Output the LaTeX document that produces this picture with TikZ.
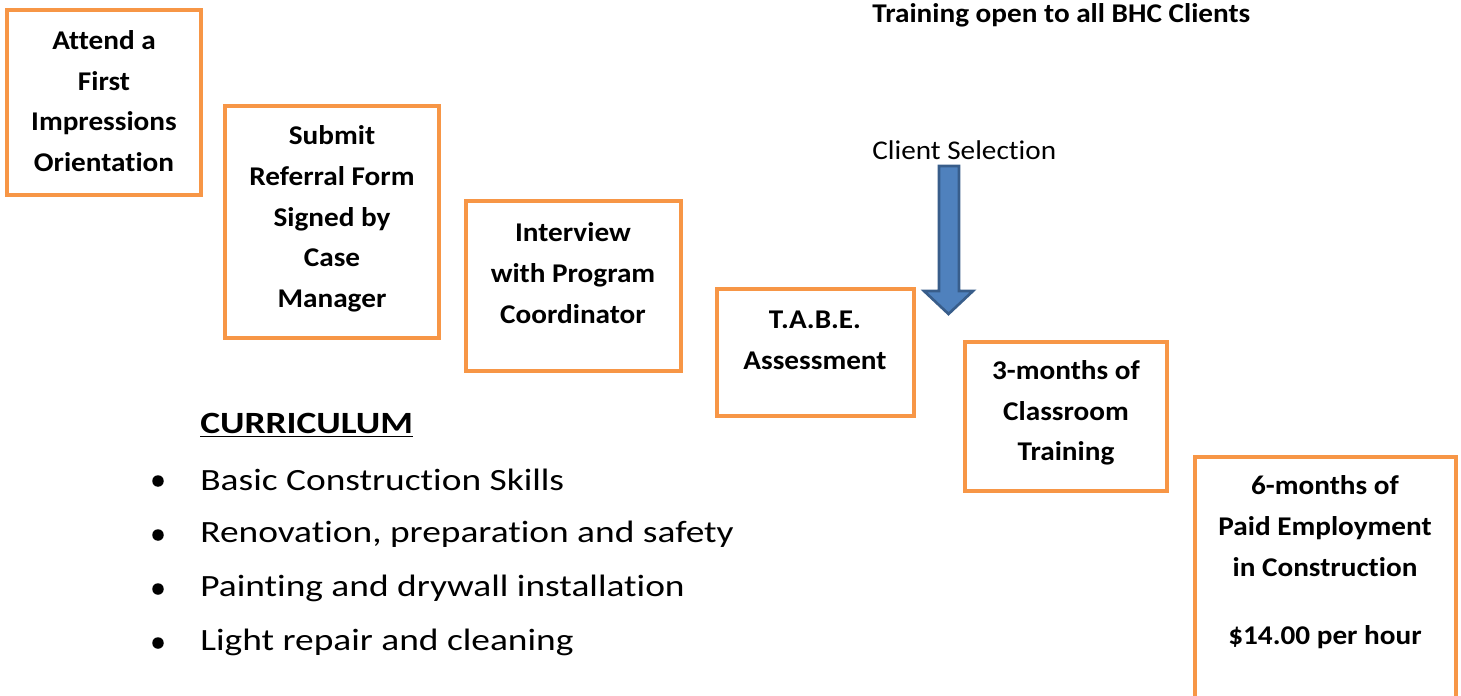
\documentclass[tikz,border=0pt]{standalone}
\usepackage{fontspec}
\setmainfont[FakeStretch=1.08, Ligatures=NoCommon]{Carlito}
\newfontfamily\widefont[FakeStretch=1.21, Ligatures=NoCommon]{Carlito}
\usetikzlibrary{fit}
\definecolor{boxorange}{HTML}{F79646}
\definecolor{arrowblue}{HTML}{4F81BD}
\definecolor{arrowedge}{HTML}{385D8A}
\begin{document}
\begin{tikzpicture}[
    x=0.02cm, y=-0.02cm,
    stepbox/.style={
        rectangle,
        draw=boxorange,
        line width=2.3pt,
        inner sep=0pt
    },
    steptext/.style={
        align=center,
        inner sep=0pt,
        font=\bfseries\fontsize{15.4}{23.2}\selectfont
    },
    note/.style={anchor=west, inner sep=0pt, font=\fontsize{15.4}{18}\selectfont},
    item/.style={anchor=west, inner sep=0pt, font=\widefont\fontsize{17.6}{21}\selectfont},
    dot/.style={circle, fill=black, inner sep=0pt, minimum size=0.23cm}
]
\clip (0,0) rectangle (1461,696);

\node[stepbox, fit={(7,10) (201,195)}] (orient) {};
\node[stepbox, fit={(225,106) (439,338)}] (referral) {};
\node[stepbox, fit={(466,201) (681,371)}] (interview) {};
\node[stepbox, fit={(717,289) (914,416)}] (tabe) {};
\node[stepbox, fit={(965,342) (1167,491)}] (classroom) {};
\node[stepbox, fit={(1195,457) (1456,740)}] (employ) {};

\node[steptext] (orienttxt) at (104,101) {Attend a\\First\\Impressions\\Orientation};
\node[steptext] (referraltxt) at (332,219) {Submit\\Referral Form\\Signed by\\Case\\Manager};
\node[steptext] (interviewtxt) at (573,273) {Interview\\with Program\\Coordinator};
\node[steptext] (tabetxt) at (815,340) {T.A.B.E.\\Assessment};
\node[steptext] (classroomtxt) at (1066,413) {3-months of\\Classroom\\Training};
\node[steptext] (employtxt) at (1325,562) {6-months of\\Paid Employment\\in Construction\\[0.55cm]\$14.00 per hour};

\node[note, font=\bfseries\fontsize{15.4}{18}\selectfont] (open) at (872,15) {Training open to all BHC Clients};
\node[note] (select) at (872,150) {Client Selection};

% selection arrow
\draw[fill=arrowblue, draw=arrowedge, line width=1.5pt, line join=miter]
    (939,166) -- (959,166) -- (959,291) -- (973,291) -- (948.5,314)
    -- (924,291) -- (939,291) -- cycle;

\node[item, font=\widefont\bfseries\fontsize{17.6}{21}\selectfont] (curr) at (200,425) {\underline{CURRICULUM}};

\node[item] (skills) at (200,480) {Basic Construction Skills};
\node[item] (renov) at (200,534) {Renovation, preparation and safety};
\node[item] (paint) at (200,588) {Painting and drywall installation};
\node[item] (repair) at (200,642) {Light repair and cleaning};

\node[dot] (d1) at (158,481) {};
\node[dot] (d2) at (158,535) {};
\node[dot] (d3) at (158,589) {};
\node[dot] (d4) at (158,643) {};

\end{tikzpicture}
\end{document}
